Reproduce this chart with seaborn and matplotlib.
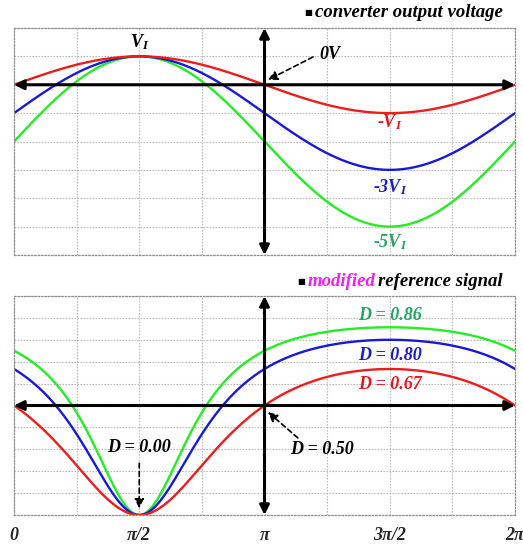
import numpy as np
import pandas as pd
import matplotlib
matplotlib.use("Agg")
import matplotlib.pyplot as plt
import seaborn as sns
from matplotlib.offsetbox import TextArea, HPacker, AnchoredOffsetbox

## Data ##
# converter output voltage, in units of V_I (peak at pi/2, trough at 3pi/2)
curve_names = ["red", "blue", "green"]
v_peak = [1, 1, 1]
v_trough = [-1, -3, -5]
v_labels = ["-$V_I$", "-3$V_I$", "-5$V_I$"]
d_labels = ["D = 0.67", "D = 0.80", "D = 0.86"]
line_colors = ["#ee1c1c", "#1818dd", "#22ee22"]
text_colors = ["#e8141e", "#1a1ad0", "#1fa860"]
tick_pos = [0, np.pi / 2, np.pi, 3 * np.pi / 2, 2 * np.pi]
tick_text = ["0", "π/2", "π", "3π/2", "2π"]

sns.set_style("white")
plt.rcParams["font.family"] = ["Liberation Serif", "DejaVu Sans"]
plt.rcParams["mathtext.fontset"] = "custom"
plt.rcParams["mathtext.it"] = "Liberation Serif:italic:bold"
plt.rcParams["mathtext.rm"] = "Liberation Serif:italic:bold"
plt.rcParams["mathtext.bf"] = "Liberation Serif:italic:bold"

# build long-form table: output voltage and duty cycle D = (1-m)/(2-m)
x = np.linspace(0, 2 * np.pi, 400)
rows = []
for name, hi, lo in zip(curve_names, v_peak, v_trough):
    m = (hi + lo) / 2 + (hi - lo) / 2 * np.sin(x)
    rows.append(pd.DataFrame({"x": x, "v": m, "D": (1 - m) / (2 - m), "curve": name}))
df = pd.concat(rows, ignore_index=True)
palette = dict(zip(curve_names, line_colors))
order = ["green", "blue", "red"]

fig = plt.figure(figsize=(5.23, 5.45), dpi=100)
ax1 = fig.add_axes([14 / 523, 1 - 255 / 545, 501 / 523, 227 / 545])
ax2 = fig.add_axes([14 / 523, 1 - 515 / 545, 501 / 523, 219 / 545])

sns.lineplot(data=df, x="x", y="v", hue="curve", hue_order=order, palette=palette,
             legend=False, linewidth=1.7, ax=ax1)
sns.lineplot(data=df, x="x", y="D", hue="curve", hue_order=order, palette=palette,
             legend=False, linewidth=1.7, ax=ax2)

ax1.set(xlim=(0, 2 * np.pi), ylim=(-6, 2))
ax2.set(xlim=(0, 2 * np.pi), ylim=(0, 1))
ax1.set_yticks(np.arange(-6, 3, 1))
ax2.set_yticks(np.arange(0, 1.01, 0.1))
for ax in [ax1, ax2]:
    ax.set_xticks(np.arange(0, 9) * np.pi / 4)
    ax.set_xlabel("")
    ax.set_ylabel("")
    ax.set_yticklabels([])
    ax.set_xticklabels([])
    ax.tick_params(length=0)
    ax.grid(True, color="#b0b0b0", linestyle=(0, (1.2, 1.5)), linewidth=0.8)
    for sp in ax.spines.values():
        sp.set_linestyle((0, (1.2, 1.5)))
        sp.set_color("#909090")
        sp.set_linewidth(0.9)
    # black double-headed axes
    y0 = 0 if ax is ax1 else 0.5
    ylo, yhi = ax.get_ylim()
    axis_arrow = dict(arrowstyle="<|-|>", color="k", lw=2.2, mutation_scale=14,
                      shrinkA=0, shrinkB=0)
    ax.annotate("", xy=(2 * np.pi, y0), xytext=(0, y0), arrowprops=axis_arrow,
                annotation_clip=False, zorder=5)
    ax.annotate("", xy=(np.pi, yhi), xytext=(np.pi, ylo), arrowprops=axis_arrow,
                annotation_clip=False, zorder=5)

# bottom tick labels
for pos, lab in zip(tick_pos, tick_text):
    ax2.text(pos, -0.095, lab, ha="center", va="center", fontsize=13,
             fontweight="bold", fontstyle="italic")

lab_kw = dict(ha="center", va="center", fontsize=13, fontweight="bold", fontstyle="italic")
dash_arrow = dict(arrowstyle="-|>", color="k", lw=1.2, linestyle=(0, (3, 2)),
                  mutation_scale=14, shrinkA=0, shrinkB=0)

# top panel annotations
ax1.text(np.pi / 2, 1.5, "$V_I$", color="k", **lab_kw)
ax1.text(3.96, 1.05, "0V", color="k", **lab_kw)
ax1.annotate("", xy=(3.185, 0.17), xytext=(3.75, 0.98), arrowprops=dash_arrow)
for lab, col, yy in zip(v_labels, text_colors, [-1.31, -3.6, -5.54]):
    ax1.text(3 * np.pi / 2, yy, lab, color=col, **lab_kw)

# bottom panel annotations
for lab, col, yy in zip(d_labels, text_colors, [0.594, 0.73, 0.913]):
    ax2.text(3 * np.pi / 2, yy, lab, color=col, **lab_kw)
ax2.text(np.pi / 2, 0.31, "D = 0.00", color="k", **lab_kw)
ax2.annotate("", xy=(np.pi / 2, 0.03), xytext=(np.pi / 2, 0.237), arrowprops=dash_arrow)
ax2.text(3.86, 0.297, "D = 0.50", color="k", **lab_kw)
ax2.annotate("", xy=(3.185, 0.47), xytext=(3.56, 0.352), arrowprops=dash_arrow)

# panel titles
title_kw = dict(fontsize=13.5, fontweight="bold", fontstyle="italic", family="Liberation Serif")


def panel_title(parts, y_top):
    boxes = [TextArea("■", textprops=dict(fontsize=6, color="k", family="DejaVu Sans"))]
    for txt, col in parts:
        boxes.append(TextArea(txt, textprops=dict(color=col, **title_kw)))
    pack = HPacker(children=boxes, align="center", pad=0, sep=2)
    box = AnchoredOffsetbox(loc="upper right", child=pack, frameon=False, pad=0,
                            borderpad=0, bbox_to_anchor=(503 / 523, y_top),
                            bbox_transform=fig.transFigure)
    fig.add_artist(box)


panel_title([("converter output voltage", "k")], 1 - 4 / 545)
panel_title([("modified", "#ee22ee"), ("reference signal", "k")], 1 - 273 / 545)

fig.savefig("out.png", dpi=100)
